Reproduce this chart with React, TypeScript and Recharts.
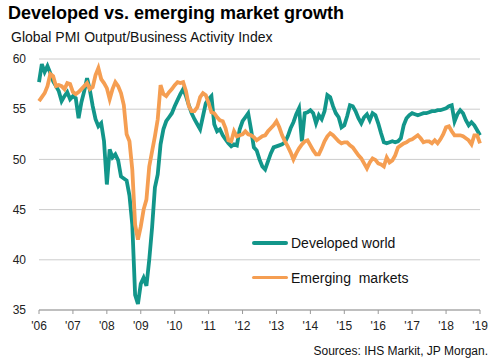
import React from 'react';
import { LineChart, Line, XAxis, YAxis, CartesianGrid } from 'recharts';

const yearLabels = ["'06", "'07", "'08", "'09", "'10", "'11", "'12", "'13", "'14", "'15", "'16", "'17", "'18", "'19"];

const developed = [
  57.7, 59.5, 58.7, 59.3, 58.6, 57.8, 57.3, 56.8, 55.8, 56.3, 56.7, 56.0,
  56.3, 56.1, 54.1, 55.7, 56.8, 58.1, 56.9, 55.3, 54.0, 53.3, 53.6, 51.8,
  47.5, 51.0, 50.2, 50.5, 49.9, 48.3, 48.1, 47.9, 46.4, 43.5, 36.5, 35.6,
  37.6, 38.2, 37.4, 40.0, 43.2, 47.2, 48.5, 51.5, 53.0, 53.8, 54.2, 54.6,
  55.3, 55.9, 56.5, 57.0, 56.3, 55.4, 54.6, 54.0, 53.5, 53.0, 54.3, 55.6,
  56.0, 56.3, 53.5, 52.8, 53.0, 52.4, 52.0, 51.6, 51.3, 51.5, 51.4, 53.0,
  53.8, 54.2, 54.6, 53.0, 51.2, 50.9, 50.0, 49.3, 49.0, 49.8, 50.6, 51.2,
  51.3, 51.4, 51.5, 51.7, 52.3, 53.1, 53.7, 54.5, 55.1, 51.8, 54.6, 54.7,
  54.9, 54.6, 53.6, 54.4, 54.0, 54.8, 56.4, 56.2, 55.3, 54.6, 54.2, 53.2,
  53.4, 54.3, 55.4, 55.3, 54.8, 54.1, 53.6, 54.2, 54.5, 53.9, 54.6, 54.4,
  53.6, 52.6, 51.7, 51.6, 51.7, 51.8, 51.7, 51.8, 52.1, 53.4, 54.1, 54.4,
  54.6, 54.5, 54.4, 54.5, 54.6, 54.6, 54.7, 54.8, 54.8, 54.9, 54.9, 55.0,
  55.1, 55.3, 55.4, 53.8, 54.5, 54.9, 54.6, 53.9, 53.4, 53.7, 53.4, 52.9,
  52.4,
];

const emerging = [
  55.8, 56.2, 56.6, 57.3, 58.5, 58.3, 57.3, 57.4, 57.3, 57.0, 57.6, 57.5,
  56.7, 56.5, 56.7, 57.0, 57.3, 57.6, 57.0, 57.2, 58.4, 59.1, 58.0, 57.6,
  57.1, 56.0, 57.0, 57.7, 57.3, 56.6, 55.4, 52.5, 51.8, 49.0, 43.5, 42.0,
  43.3, 45.0, 46.0, 49.3, 50.8, 52.3, 54.0, 57.4, 56.5, 56.3, 56.7, 57.0,
  57.4, 57.7, 57.6, 57.7, 56.8, 55.3, 54.8, 54.8, 55.2, 56.2, 56.6, 56.4,
  55.6, 54.7, 54.6, 54.2, 53.9, 53.8, 53.1, 51.9, 51.8, 52.8, 52.3, 52.4,
  52.5, 52.8, 52.5, 52.4, 52.2, 51.9, 52.1, 52.3, 52.4, 52.8, 53.1, 53.4,
  53.8, 53.2, 52.4, 51.8, 51.3, 50.7, 50.0, 50.6, 51.1, 51.5, 51.8, 51.9,
  51.4, 50.9, 50.5, 50.5, 51.1, 51.8, 52.3, 52.6, 52.4, 52.1, 51.8, 51.6,
  51.7, 51.7, 51.4, 51.2, 50.8, 50.4, 50.1, 49.6, 49.1, 49.7, 50.1, 49.95,
  49.6, 49.5, 49.3, 50.2, 49.7, 49.9, 50.4, 51.2, 51.4, 51.6, 51.7, 51.9,
  52.0, 52.2, 52.4, 52.1, 51.7, 51.8, 51.8, 51.6, 51.9, 51.6, 52.0, 52.5,
  53.2, 53.3, 52.8, 52.4, 52.4, 52.4, 52.3, 52.1, 51.9, 51.5, 52.4, 52.4,
  51.6,
];

const seriesNames = ['Developed world', 'Emerging  markets'];
const seriesColors = ['#12968A', '#F59E52'];
const yTicks = [35, 40, 45, 50, 55, 60];

const data = developed.map((d, i) => ({ i, developed: d, emerging: emerging[i] }));
const xTicks = yearLabels.map((_, k) => k * 12);

const FONT = 'Arial, "Liberation Sans", Helvetica, sans-serif';

export default function App() {
  return (
    <div style={{ position: 'absolute', left: 0, top: 0, width: 496, height: 361, background: '#fff', fontFamily: FONT }}>
      <div style={{ position: 'absolute', left: 8, top: 3, fontSize: 18, fontWeight: 'bold', color: '#000', whiteSpace: 'nowrap' }}>
        Developed vs. emerging market growth
      </div>
      <div style={{ position: 'absolute', left: 11, top: 29, fontSize: 14, color: '#111', whiteSpace: 'nowrap' }}>
        Global PMI Output/Business Activity Index
      </div>
      <LineChart width={496} height={361} data={data} margin={{ top: 59, right: 16, bottom: 0, left: 0 }}>
        <CartesianGrid vertical={false} stroke="#cccccc" strokeWidth={1} />
        <XAxis
          dataKey="i"
          type="number"
          domain={[0, 156]}
          ticks={xTicks}
          tickFormatter={(v: number) => yearLabels[v / 12]}
          height={51}
          stroke="#999"
          tickSize={4}
          tickMargin={7}
          tick={{ fill: '#222', fontSize: 12, fontFamily: FONT }}
          interval={0}
        />
        <YAxis
          domain={[35, 60]}
          ticks={yTicks}
          width={39}
          axisLine={false}
          tickLine={false}
          tickSize={0}
          tickMargin={13}
          tick={{ fill: '#222', fontSize: 12, fontFamily: FONT }}
          interval={0}
        />
        <Line type="linear" dataKey="developed" stroke={seriesColors[0]} strokeWidth={3.8} dot={false} isAnimationActive={false} />
        <Line type="linear" dataKey="emerging" stroke={seriesColors[1]} strokeWidth={3.8} dot={false} isAnimationActive={false} />
      </LineChart>
      <div style={{ position: 'absolute', left: 252, top: 233, fontSize: 14, color: '#111' }}>
        {seriesNames.map((name, k) => (
          <div key={name} style={{ display: 'flex', alignItems: 'center', height: 20, marginBottom: k === 0 ? 14.5 : 0 }}>
            <div style={{ width: 36, height: 3.8, borderRadius: 2, background: seriesColors[k], marginRight: 3 }} />
            <span style={{ whiteSpace: 'pre' }}>{name}</span>
          </div>
        ))}
      </div>
      <div style={{ position: 'absolute', right: 8, top: 344, fontSize: 12, color: '#111', whiteSpace: 'nowrap' }}>
        Sources: IHS Markit, JP Morgan.
      </div>
    </div>
  );
}
